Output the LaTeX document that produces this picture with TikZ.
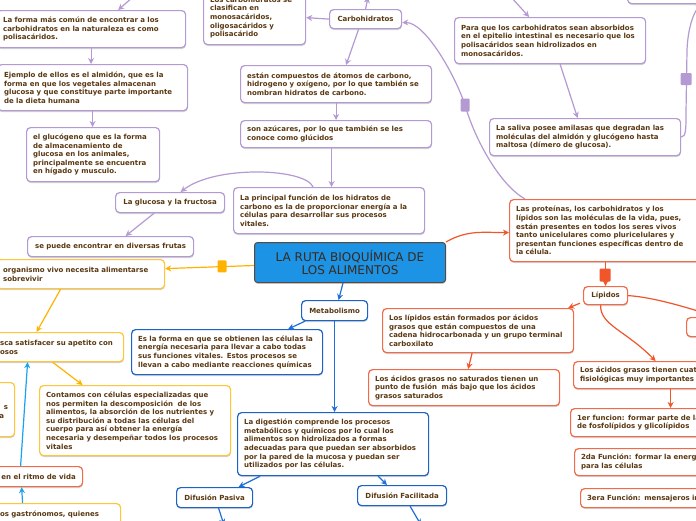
\documentclass[tikz,border=0pt]{standalone}
\usepackage{fontspec}
\setmainfont{DejaVu Sans}
\usetikzlibrary{arrows.meta,shadows,calc}
\definecolor{purp}{HTML}{B49AD2}
\definecolor{bluB}{HTML}{1C63C6}
\definecolor{bluL}{HTML}{1E6FD9}
\definecolor{skyL}{HTML}{1AA3EC}
\definecolor{redB}{HTML}{F26A48}
\definecolor{redL}{HTML}{F0562A}
\definecolor{yelB}{HTML}{FFC637}
\definecolor{yelL}{HTML}{FFB300}
\definecolor{txt}{HTML}{5A3811}
\definecolor{titlef}{HTML}{1C93E4}
\definecolor{titleb}{HTML}{5B4A3C}
\definecolor{titlet}{HTML}{3A2A1E}
\tikzset{
 base/.style={fill=white, rounded corners=4pt, line width=1.2pt, text=txt, anchor=north west, inner ysep=2pt,
   drop shadow={shadow xshift=0.3pt, shadow yshift=-1.4pt, opacity=0.18, fill=black}},
 bodyfont/.style={font=\bfseries\fontsize{7}{8.6}\selectfont},
 tbox/.style={base, bodyfont, align=left, inner xsep=6.5pt, text width=#1},
 cbox/.style={base, bodyfont, align=center, inner xsep=2pt},
 mk/.style={rectangle, inner sep=0pt, rounded corners=1pt, anchor=center},
 tip/.style={-{Stealth[length=6pt,width=6pt]}},
 parr/.style={tip, draw=purp, line width=1.2pt},
 rarr/.style={tip, draw=redL, line width=1.2pt},
 yarr/.style={tip, draw=yelL, line width=1.2pt},
 barr/.style={tip, draw=bluL, line width=1.2pt},
 sarr/.style={tip, draw=skyL, line width=1.2pt},
}
\begin{document}
\begin{tikzpicture}[x=1pt,y=-1pt]
\useasboundingbox (0,0) rectangle (696,520);
\clip (0,0) rectangle (696,520);
\fill[white] (0,0) rectangle (696,520);

% ---------- purple (carbohidratos) ----------
\node[tbox=176pt, draw=purp, minimum height=37pt] (p1) at (-4,10) {La forma más común de encontrar a los\\carbohidratos en la naturaleza es como\\polisacáridos.};
\node[tbox=177pt, draw=purp, minimum height=46pt] (p2) at (-3,64) {Ejemplo de ellos es el almidón, que es la\\forma en que los vegetales almacenan\\glucosa y que constituye parte importante\\de la dieta humana};
\node[tbox=120pt, draw=purp, minimum height=54pt] (p3) at (26,127) {el glucógeno que es la forma\\de almacenamiento de\\glucosa en los animales,\\principalmente se encuentra\\en hígado y musculo.};
\node[tbox=89pt, draw=purp, minimum height=54pt] (p4) at (203,-10) {Los carbohidratos se\\clasifican en\\monosacáridos,\\oligosacáridos y\\polisacárido};
\node[cbox, draw=purp, minimum width=72pt, minimum height=19pt] (p5) at (329,9) {Carbohidratos};
\node[tbox=178pt, draw=purp, minimum height=37pt] (p6) at (240,65) {están compuestos de átomos de carbono,\\hidrogeno y oxígeno, por lo que también se\\nombran hidratos de carbono.};
\node[tbox=178pt, draw=purp, minimum height=27pt] (p7) at (240,120) {son azúcares, por lo que también se les\\conoce como glúcidos};
\node[tbox=178pt, draw=purp, minimum height=46pt] (p8) at (233,187) {La principal función de los hidratos de\\carbono es la de proporcionar energía a la\\células para desarrollar sus procesos\\vitales.};
\node[cbox, draw=purp, minimum width=109pt, minimum height=20pt] (p9) at (115,192) {La glucosa y la fructosa};
\node[cbox, draw=purp, minimum width=166pt, minimum height=20pt] (p10) at (27,236) {se puede encontrar en diversas frutas};
\node[tbox=178pt, draw=purp, minimum height=46pt] (p30) at (454,17) {Para que los carbohidratos sean absorbidos\\en el epitelio intestinal es necesario que los\\polisacáridos sean hidrolizados en\\monosacáridos.};
\node[tbox=178pt, draw=purp, minimum height=37pt] (p31) at (489,118) {La saliva posee amilasas que degradan las\\moléculas del almidón y glucógeno hasta\\maltosa (dímero de glucosa).};
\node[cbox, draw=purp, minimum width=191pt, minimum height=43pt] (ptr) at (627,-40) {};

% ---------- title ----------
\node[draw=titleb, fill=titlef, text=titlet, line width=1pt, rounded corners=3pt, anchor=north west,
  font=\fontsize{12}{13.5}\selectfont, align=center, minimum width=191pt, minimum height=40pt,
  drop shadow={shadow xshift=0.3pt, shadow yshift=-1.4pt, opacity=0.18, fill=black}]
  (title) at (254,242) {LA RUTA BIOQUÍMICA DE\\LOS ALIMENTOS};

% ---------- yellow ----------
\node[tbox=155pt, draw=yelB, minimum height=29pt] (y11) at (-4,259) {organismo vivo necesita alimentarse\\sobrevivir};
\node[tbox=117pt, draw=yelB, minimum height=29pt] (y12) at (-7,332) {sca satisfacer su apetito con\\osos};
\node[tbox=178pt, draw=yelB, minimum height=70pt] (y13) at (39,385) {Contamos con células especializadas que\\nos permiten la descomposición\ \ de los\\alimentos, la absorción de los nutrientes y\\su distribución a todas las células del\\cuerpo para así obtener la energía\\necesaria y desempeñar todos los procesos\\vitales};
\node[base, bodyfont, align=right, inner xsep=6.5pt, text width=101pt, draw=yelB, minimum height=54pt] (y14) at (-100,382) {\mbox{}\\s\hspace*{4pt}\\a\hspace*{4pt}};
\node[tbox=114pt, draw=yelB, minimum height=28.5pt] (y16) at (-7,503) {os gastrónomos, quienes\\\mbox{}};
\node[cbox, draw=redB, minimum width=88pt, minimum height=20pt] (r15) at (-6,466) {en el ritmo de vida};

% ---------- blue ----------
\node[cbox, draw=bluB, minimum width=66pt, minimum height=20pt] (b17) at (301,300) {Metabolismo};
\node[tbox=178pt, draw=bluB, minimum height=45pt] (b18) at (131,329) {Es la forma en que se obtienen las células la\\energía necesaria para llevar a cabo todas\\sus funciones vitales. Estos procesos se\\llevan a cabo mediante reacciones químicas};
\node[tbox=178pt, draw=bluB, minimum height=63pt] (b19) at (237,412) {La digestión comprende los procesos\\metabólicos y químicos por lo cual los\\alimentos son hidrolizados a formas\\adecuadas para que puedan ser absorbidos\\por la pared de la mucosa y puedan ser\\utilizados por las células.};
\node[cbox, draw=bluB, minimum width=76pt, minimum height=20pt] (b20) at (176,487) {Difusión Pasiva};
\node[cbox, draw=bluB, minimum width=89pt, minimum height=20pt] (b21) at (357,485) {Difusión Facilitada};

% ---------- red ----------
\node[tbox=178pt, draw=redB, minimum height=62pt] (r22) at (509,199) {Las proteínas, los carbohidratos y los\\lípidos son las moléculas de la vida, pues,\\están presentes en todos los seres vivos\\tanto unicelulares como pluricelulares y\\presentan funciones específicas dentro de\\la célula.};
\node[cbox, draw=redB, minimum width=44pt, minimum height=18pt] (r23) at (583,286) {Lípidos};
\node[tbox=178pt, draw=redB, minimum height=44pt] (r24) at (382,308) {Los lípidos están formados por ácidos\\grasos que están compuestos de una\\cadena hidrocarbonada y un grupo terminal\\carboxilato};
\node[tbox=178pt, draw=redB, minimum height=36pt] (r25) at (368,369) {Los ácidos grasos no saturados tienen un\\punto de fusión\ \ más bajo que los ácidos\\grasos saturados};
\node[tbox=178pt, draw=redB, minimum height=27pt] (r26) at (573,361) {Los ácidos grasos tienen cuatro funciones\\fisiológicas muy importantes};
\node[tbox=178pt, draw=redB, minimum height=28pt] (r27) at (570,408) {1er funcion: formar parte de las\\de fosfolípidos y glicolípidos};
\node[tbox=178pt, draw=redB, minimum height=27pt] (r28) at (574,448) {2da Función: formar la energía\\para las células};
\node[tbox=178pt, draw=redB, minimum height=19pt] (r29) at (580,488) {3era Función: mensajeros intracelulares};
\node[cbox, draw=redB, minimum width=60pt, minimum height=19pt] (rx) at (686,317) {};

% ---------- free ends ----------
\coordinate (tl1) at (133,-3);
\coordinate (tc) at (368,-3);
\coordinate (tp30) at (511,-3);
\coordinate (bo1) at (224,525);
\coordinate (bo2) at (421,525);

% ---------- purple connectors ----------
\draw[parr] (tl1) -- ([xshift=27pt]p1.north);
\draw[parr] (p1.south) -- (p1.south |- p2.north);
\draw[parr] (p2.south) -- (p2.south |- p3.north);
\draw[parr] (p5.north) -- (tc);
\draw[parr] (p5.west) -- (p4.east);
\draw[parr] ([xshift=-7pt]p5.south) -- ([xshift=10pt]p6.north);
\draw[parr] (p6.south) -- (p7.north);
\draw[parr] ([xshift=-4.5pt]p7.south) -- ([xshift=2.5pt]p8.north);
\draw[parr] ([xshift=-16pt]p8.north) .. controls (305,168) and (215,165) .. ([xshift=10.5pt]p9.north);
\draw[parr] ([xshift=-16pt]p9.south) -- ([xshift=15pt]p10.north);
\draw[parr] ([xshift=16pt]r22.north west) .. controls (500,185) and (475,140) .. (465,105)
   .. controls (455,75) and (425,22) .. ([yshift=-3.5pt]p5.east);
\node[mk, fill=purp, minimum width=9pt, minimum height=13pt] (pm1) at (465,105) {};
\draw[parr] (tp30) -- ([xshift=-21pt]p30.north);
\draw[parr] ([xshift=10pt]p30.south) -- ([xshift=-7.5pt]p31.north);
\draw[parr] (p31.east) .. controls (686,136.5) and (686,130) .. (686,112) -- (687,50)
   .. controls (688,25) and (695,10) .. ([xshift=75pt]ptr.south west);
\node[mk, fill=purp, minimum width=11pt, minimum height=12pt] (pm2) at (686,79) {};

% ---------- title connectors ----------
\draw[rarr] (title.north east) to[out=30,in=180] ([yshift=-2pt]r22.west);
\draw[yarr] ([yshift=-3pt]title.west) -- ([yshift=5.5pt]y11.east);
\node[mk, fill=yelL, minimum width=9pt, minimum height=12pt] (ym) at (222,266.3) {};
\draw[barr] ([xshift=-7pt]title.south) -- ([xshift=4pt]b17.north);

% ---------- red connectors ----------
\draw[rarr] (r23.north |- r22.south) -- (r23.north);
\node[mk, fill=redL, minimum width=11pt, minimum height=13pt] (rm) at (605,275) {};
\draw[rarr] ([xshift=-3pt,yshift=2pt]r23.south west) -- ([xshift=-6pt]r24.north east);
\draw[rarr] ([xshift=-5pt]r23.south) .. controls (600,325) and (625,330) .. ([xshift=-13.5pt]r26.north);
\draw[rarr] (r23.east) .. controls (650,297) and (680,305) .. (rx.north);
\draw[rarr] ([xshift=-6pt]r24.south) -- ([xshift=4pt]r25.north);
\draw[rarr] ([xshift=1.5pt]r26.south) -- ([xshift=4.5pt]r27.north);

% ---------- yellow connectors ----------
\draw[yarr] ([xshift=-20pt]y11.south) -- ([xshift=-22pt]y12.north);
\draw[yarr] ([xshift=-6pt]y12.south) -- ([xshift=-52.5pt]y13.north);

% ---------- sky connectors ----------
\draw[sarr] ([xshift=-18pt]r15.north) -- ([xshift=-31pt]y12.south);
\draw[sarr] ([xshift=-34.5pt]y16.north) -- ([xshift=-17pt]r15.south);

% ---------- blue connectors ----------
\draw[barr] ([xshift=4pt]b17.south west) -- ([xshift=-35pt]b18.north east);
\draw[barr] (b17.south) -- (b17.south |- b19.north);
\draw[barr] ([xshift=23pt]b19.south west) -- ([xshift=24pt]b20.north);
\draw[barr] ([xshift=45pt]b19.south) -- ([xshift=30pt]b21.north west);
\draw[barr] ([xshift=4pt]b20.south) -- (bo1);
\draw[barr] ([xshift=8pt]b21.south) -- (bo2);
\end{tikzpicture}
\end{document}
